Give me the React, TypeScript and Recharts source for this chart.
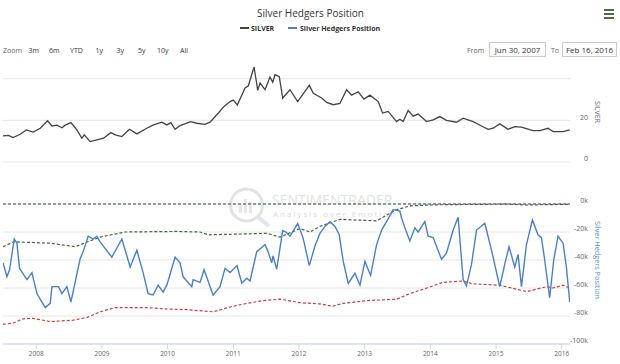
import React from 'react';
import { LineChart, Line, XAxis, YAxis, CartesianGrid } from 'recharts';

const FONT = '"Open Sans", "Liberation Sans", Arial, sans-serif';

// time axis runs from Jun 30, 2007 to Feb 16, 2016 (decimal years)
const START = 2007.494;
const END = 2016.126;

const yearTicks = [2008, 2009, 2010, 2011, 2012, 2013, 2014, 2015, 2016];
const silverTicks = [0, 20, 40];
const hedgerTicks = [-100, -80, -60, -40, -20, 0];
const rangeButtons = ['3m', '6m', 'YTD', '1y', '3y', '5y', '10y', 'All'];

// [year, price]
const silverPoints: [number, number][] = [
  [2007.494, 12.5], [2007.579, 12.8], [2007.646, 11.7], [2007.757, 13.3], [2007.848, 15.4],
  [2007.954, 14.4], [2008.061, 16.2], [2008.172, 19.8], [2008.239, 17.3], [2008.315, 17.7],
  [2008.391, 16.4], [2008.441, 17.7], [2008.528, 18.9], [2008.619, 15.4], [2008.695, 11.4],
  [2008.73, 13], [2008.821, 9.8], [2008.923, 10.6], [2009.024, 11.4], [2009.136, 14.1],
  [2009.202, 13], [2009.303, 12.2], [2009.419, 15.7], [2009.532, 13.5], [2009.683, 16.2],
  [2009.784, 17.8], [2009.912, 19.1], [2009.988, 17.8], [2010.049, 18.9], [2010.114, 15.7],
  [2010.19, 17.5], [2010.353, 19.4], [2010.444, 18.6], [2010.57, 18.1], [2010.646, 19.1],
  [2010.773, 23.5], [2010.859, 26.7], [2010.951, 29], [2011.001, 29.7], [2011.061, 27.4],
  [2011.179, 35.5], [2011.229, 36.6], [2011.316, 45.6], [2011.372, 34.4], [2011.407, 38],
  [2011.483, 34.7], [2011.559, 40.8], [2011.6, 38.3], [2011.635, 41.9], [2011.7, 41],
  [2011.752, 30.7], [2011.863, 34.7], [2011.98, 29], [2012.091, 33.9], [2012.157, 36.8],
  [2012.218, 33], [2012.345, 30.7], [2012.421, 28.6], [2012.522, 27.5], [2012.623, 28.1],
  [2012.725, 34.7], [2012.801, 32.1], [2012.902, 33.7], [2012.989, 30.2], [2013.08, 32.1],
  [2013.206, 29], [2013.273, 23.5], [2013.358, 24.3], [2013.486, 19.4], [2013.536, 20.5],
  [2013.586, 19.4], [2013.662, 24.7], [2013.738, 22], [2013.814, 23], [2013.942, 19.4],
  [2014.043, 20.2], [2014.144, 21.8], [2014.246, 20], [2014.398, 19.1], [2014.499, 21],
  [2014.651, 19.4], [2014.779, 17.3], [2014.879, 15.7], [2014.955, 16.2], [2015.057, 18.3],
  [2015.183, 15.7], [2015.285, 17], [2015.387, 16.7], [2015.563, 15.1], [2015.665, 15.1],
  [2015.792, 16.2], [2015.868, 14.6], [2016.02, 14.6], [2016.122, 15.4],
];

// [year, thousand contracts]
const hedgerPoints: [number, number][] = [
  [2007.494, -41.9], [2007.554, -52], [2007.594, -47], [2007.665, -25], [2007.706, -28],
  [2007.746, -46], [2007.858, -54], [2007.935, -49], [2007.959, -54], [2008.011, -64],
  [2008.137, -74], [2008.213, -71], [2008.239, -59], [2008.339, -59], [2008.391, -64],
  [2008.467, -59], [2008.528, -70], [2008.669, -39], [2008.715, -34], [2008.791, -23],
  [2008.867, -25], [2008.923, -23], [2008.973, -27], [2009.151, -38], [2009.303, -25],
  [2009.43, -45], [2009.532, -33], [2009.627, -49], [2009.703, -64], [2009.779, -65],
  [2009.856, -58], [2009.932, -63], [2009.988, -58], [2010.114, -38], [2010.19, -42],
  [2010.236, -52], [2010.368, -59], [2010.388, -54], [2010.494, -56], [2010.555, -47],
  [2010.616, -55], [2010.692, -65], [2010.798, -59], [2010.874, -46], [2010.951, -49],
  [2011.057, -44], [2011.129, -56.6], [2011.205, -53], [2011.255, -55], [2011.357, -34],
  [2011.483, -29], [2011.529, -34], [2011.585, -42], [2011.605, -37], [2011.661, -46.6],
  [2011.752, -19], [2011.802, -20], [2011.863, -23], [2011.98, -14], [2012.061, -24],
  [2012.157, -44], [2012.243, -30], [2012.319, -21], [2012.395, -16], [2012.471, -12.6],
  [2012.548, -16], [2012.613, -22], [2012.674, -41], [2012.75, -56.7], [2012.852, -49.5],
  [2012.928, -58], [2013.004, -41], [2013.09, -51], [2013.182, -29], [2013.258, -18.6],
  [2013.334, -12.6], [2013.434, -4], [2013.536, -5], [2013.562, -10], [2013.612, -17],
  [2013.688, -26.4], [2013.764, -17], [2013.814, -20], [2013.916, -12.6], [2013.967, -23],
  [2014.043, -24], [2014.17, -39.5], [2014.246, -35], [2014.347, -18.6], [2014.423, -9.5],
  [2014.499, -54], [2014.55, -58.6], [2014.627, -43], [2014.703, -18.6], [2014.829, -13.8],
  [2014.931, -33], [2015.057, -59], [2015.133, -43], [2015.198, -30.5], [2015.285, -45],
  [2015.335, -36], [2015.387, -59], [2015.463, -29], [2015.554, -11.4], [2015.639, -22],
  [2015.691, -24], [2015.741, -40], [2015.817, -67], [2015.878, -40], [2015.944, -23],
  [2016.02, -28], [2016.071, -45], [2016.122, -70],
];

const upperBandPoints: [number, number][] = [
  [2007.494, -30.5], [2007.655, -27], [2008.213, -28], [2008.593, -30.5], [2008.973, -23.6],
  [2009.354, -20], [2010.144, -19.6], [2010.494, -20], [2010.616, -22], [2011.513, -21],
  [2011.711, -23.6], [2012.015, -17.6], [2012.167, -20], [2012.319, -16], [2012.623, -11],
  [2013.186, -12], [2013.384, -6.6], [2013.49, -4], [2013.688, -1.4], [2014.038, -0.6],
  [2014.601, -0.3], [2015.164, -0.1], [2015.468, -0.7], [2016.122, -0.2],
];

const lowerBandPoints: [number, number][] = [
  [2007.494, -86], [2007.65, -85], [2007.802, -82], [2007.954, -81.7], [2008.213, -84],
  [2008.563, -83], [2008.776, -81], [2008.973, -77], [2009.202, -74], [2009.688, -74],
  [2009.993, -75], [2010.297, -75.5], [2010.692, -77], [2010.996, -73], [2011.209, -71],
  [2011.452, -69], [2011.711, -68], [2012.015, -70.5], [2012.319, -71.4], [2012.517, -73],
  [2012.669, -71], [2013.034, -69], [2013.49, -68], [2013.688, -64], [2013.947, -60],
  [2014.19, -56], [2014.494, -55], [2014.646, -57], [2015.057, -58], [2015.468, -62.6],
  [2015.772, -59], [2015.863, -60], [2016.02, -58], [2016.122, -60],
];

const zeroLinePoints: [number, number][] = [[START, 0], [END, 0]];

const toRows = (pts: [number, number][]) => pts.map(([t, v]) => ({ t, v }));

const silverData = toRows(silverPoints);
const hedgerData = toRows(hedgerPoints);
const upperData = toRows(upperBandPoints);
const lowerData = toRows(lowerBandPoints);
const zeroData = toRows(zeroLinePoints);

const rightTick = (fmt: (v: number) => string, hide?: number) => (props: any) => {
  const { y, payload } = props;
  if (payload.value === hide) return <g />;
  return (
    <text x={588} y={y - 3} dy="0.35em" textAnchor="end" fontSize={7} fill="#666" fontFamily={FONT}>
      {fmt(payload.value)}
    </text>
  );
};

const yearTick = (props: any) => (
  <text x={props.x} y={355.5} textAnchor="middle" fontSize={6.5} fill="#666" fontFamily={FONT}>
    {props.payload.value}
  </text>
);

const abs = (left: number, top: number, extra: React.CSSProperties = {}): React.CSSProperties => ({
  position: 'absolute',
  left,
  top,
  lineHeight: 1,
  whiteSpace: 'nowrap',
  ...extra,
});

export default function App() {
  return (
    <div
      style={{
        position: 'absolute',
        left: 0,
        top: 0,
        width: 620,
        height: 364,
        background: '#fff',
        fontFamily: FONT,
        overflow: 'hidden',
      }}
    >
      {/* title + legend */}
      <div style={abs(310.5, 12.5, { fontSize: 10, color: '#333', transform: 'translate(-50%, -50%)' })}>
        Silver Hedgers Position
      </div>
      <div style={abs(240, 27.3, { width: 9, height: 1.5, background: '#434348' })} />
      <div style={abs(251, 28, { fontSize: 7, fontWeight: 700, color: '#333', transform: 'translateY(-50%)' })}>
        SILVER
      </div>
      <div style={abs(288, 27.3, { width: 9, height: 1.5, background: '#4a80c5' })} />
      <div style={abs(300, 28, { fontSize: 7, fontWeight: 700, color: '#333', transform: 'translateY(-50%)' })}>
        Silver Hedgers Position
      </div>

      {/* export menu */}
      {[10, 14, 18].map((y) => (
        <div key={y} style={abs(604, y - 1, { width: 10, height: 2, background: '#4d6b47' })} />
      ))}

      {/* range selector */}
      <div style={abs(3, 49.5, { fontSize: 7, color: '#666', transform: 'translateY(-50%)' })}>Zoom</div>
      {rangeButtons.map((b, i) => (
        <div
          key={b}
          style={abs([28.5, 49, 70, 95.5, 116.5, 138, 157, 180][i], 49.5, {
            fontSize: 7,
            color: '#333',
            transform: 'translateY(-50%)',
          })}
        >
          {b}
        </div>
      ))}
      <div style={abs(467, 50, { fontSize: 7, color: '#666', transform: 'translateY(-50%)' })}>From</div>
      <div
        style={abs(489, 42, {
          width: 57,
          height: 15,
          boxSizing: 'border-box',
          border: '1px solid #ccc',
          fontSize: 8,
          color: '#333',
          display: 'flex',
          alignItems: 'center',
          justifyContent: 'center',
        })}
      >
        Jun 30, 2007
      </div>
      <div style={abs(551, 50, { fontSize: 7, color: '#666', transform: 'translateY(-50%)' })}>To</div>
      <div
        style={abs(562, 42, {
          width: 55,
          height: 15,
          boxSizing: 'border-box',
          border: '1px solid #ccc',
          fontSize: 8,
          color: '#333',
          display: 'flex',
          alignItems: 'center',
          justifyContent: 'center',
        })}
      >
        Feb 16, 2016
      </div>

      {/* watermark */}
      <svg style={abs(225, 184)} width={50} height={45}>
        <circle cx={21.5} cy={21} r={16} fill="none" stroke="#e2e2e2" strokeWidth={3} />
        <rect x={14} y={20} width={3} height={9} fill="#e6e6e6" />
        <rect x={19} y={15} width={3} height={14} fill="#e6e6e6" />
        <rect x={24} y={18} width={3} height={11} fill="#dde8f3" />
        <line x1={33} y1={33} x2={44} y2={42} stroke="#dde8f3" strokeWidth={4} />
      </svg>
      <div style={abs(272, 200, { fontSize: 14, color: '#e3e3e3', transform: 'translateY(-50%)' })}>
        SENTIMENTRADER
      </div>
      <div
        style={abs(273, 213.5, { fontSize: 8, color: '#d8d8d8', letterSpacing: 2, transform: 'translateY(-50%)' })}
      >
        Analysis over Emotion
      </div>

      {/* axis titles */}
      <div style={abs(597, 112, { fontSize: 7, color: '#666', transform: 'translate(-50%, -50%) rotate(90deg)' })}>
        SILVER
      </div>
      <div
        style={abs(597, 260, { fontSize: 7.3, color: '#5b8ccc', transform: 'translate(-50%, -50%) rotate(90deg)' })}
      >
        Silver Hedgers Position
      </div>

      {/* silver pane */}
      <div style={abs(0, 0)}>
        <LineChart width={620} height={170} margin={{ top: 62, right: 20, left: 3, bottom: 8 }}>
          <CartesianGrid vertical={false} stroke="#e6e6e6" horizontalValues={silverTicks} />
          <XAxis type="number" dataKey="t" domain={[START, END]} ticks={yearTicks} allowDataOverflow hide />
          <YAxis
            orientation="right"
            width={30}
            domain={[0, 48]}
            ticks={silverTicks}
            interval={0}
            axisLine={false}
            tickLine={false}
            tick={rightTick((v) => String(v), 40)}
          />
          <Line
            data={silverData}
            dataKey="v"
            type="linear"
            stroke="#434348"
            strokeWidth={1.3}
            dot={false}
            isAnimationActive={false}
          />
        </LineChart>
      </div>

      {/* hedgers pane */}
      <div style={abs(0, 0)}>
        <LineChart width={620} height={364} margin={{ top: 204, right: 20, left: 3, bottom: 0 }}>
          <CartesianGrid vertical={false} stroke="#e6e6e6" horizontalValues={hedgerTicks} />
          <XAxis
            type="number"
            dataKey="t"
            domain={[START, END]}
            ticks={yearTicks}
            interval={0}
            allowDataOverflow
            height={20}
            stroke="#ccd6eb"
            tickSize={5}
            tick={yearTick}
          />
          <YAxis
            orientation="right"
            width={30}
            domain={[-100, 0]}
            ticks={hedgerTicks}
            interval={0}
            axisLine={false}
            tickLine={false}
            tick={rightTick((v) => `${v}k`)}
          />
          <Line
            data={zeroData}
            dataKey="v"
            stroke="#2f4f2f"
            strokeWidth={1.2}
            strokeDasharray="3 2"
            dot={false}
            isAnimationActive={false}
          />
          <Line
            data={upperData}
            dataKey="v"
            stroke="#3d6b37"
            strokeWidth={1.2}
            strokeDasharray="3 2"
            dot={false}
            isAnimationActive={false}
          />
          <Line
            data={lowerData}
            dataKey="v"
            stroke="#d23a3a"
            strokeWidth={1.2}
            strokeDasharray="3 2"
            dot={false}
            isAnimationActive={false}
          />
          <Line
            data={hedgerData}
            dataKey="v"
            stroke="#4a80c5"
            strokeWidth={1.4}
            dot={false}
            isAnimationActive={false}
          />
        </LineChart>
      </div>
    </div>
  );
}
